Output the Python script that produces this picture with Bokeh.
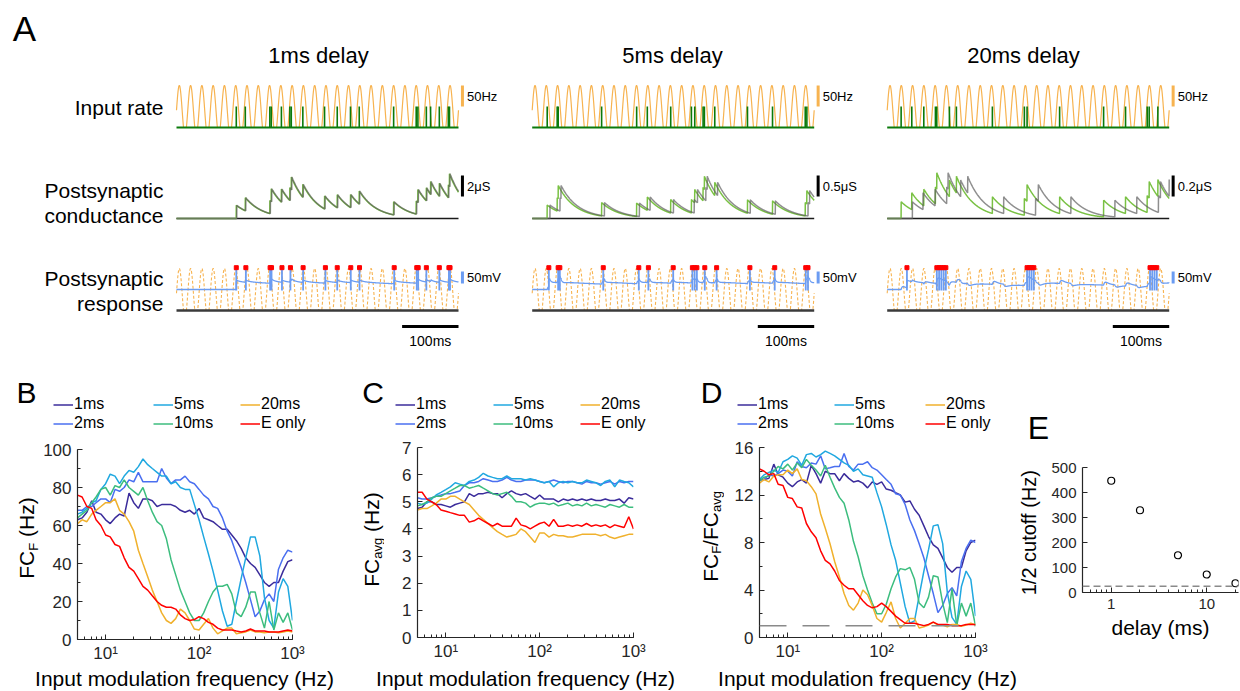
import numpy as np
from bokeh.plotting import figure
from bokeh.models import Range1d, Label, Legend, LegendItem, Span, SingleIntervalTicker, FixedTicker
from bokeh.layouts import column, row
from bokeh.embed import file_html
from bokeh.resources import INLINE

FONT = "Liberation Sans"
AXC = "#262626"

# ---------------- Panel A data ----------------
col_titles = ["1ms delay", "5ms delay", "20ms delay"]
delays_ms = [1.0, 5.0, 20.0]
duration_ms = 500.0
mod_freq_hz = 50.0
peak_rate_hz = 100.0
rate_peak_phase_ms = 5.0
spike_mark_hz = 50.0
input_spikes_ms = [
    [106, 122, 165.5, 168, 186, 201, 203.5, 224, 262.5, 285, 308.5, 324, 385, 425, 428, 443, 450.5, 466, 482, 484],
    [26.6, 44.3, 46.1, 123.1, 185.2, 204.1, 245.6, 282.3, 288.2, 303, 305.3, 323.7, 381.7, 426.1, 484.1, 487],
    [24.7, 43.6, 64.9, 85.5, 87.9, 110.3, 122.7, 186.5, 243.2, 248, 305.7, 383.7, 422.6, 461, 464.5, 479.9],
]
output_spikes_ms = [
    [106, 123, 166, 168.5, 187, 202, 224.5, 264, 285, 309, 324.5, 386, 426, 428.5, 443, 466, 483, 485],
    [29.5, 46, 49, 126, 189, 206, 250, 284, 288, 292, 306, 327, 386, 430, 485, 489],
    [35, 88, 92, 96, 100, 104, 248, 252, 256, 260, 466, 470, 474, 478],
]
cond_bar_value = [2.0, 0.5, 0.2]
cond_bar_text = ["2μS", "0.5μS", "0.2μS"]
cond_jump = [1.25, 0.32, 0.16]
cond_tau_ms = 30.0
v_rest, v_reset, v_relax, tau_relax = -70.0, -38.0, -62.0, 150.0
psp_e_amp, psp_i_amp = 12.0, 8.0
spike_top_mv, spike_bottom_mv, marker_mv = 16.0, -74.0, 21.0

# ---------------- Panels B-D data ----------------
freq = [5.0, 5.6, 6.3, 7.1, 7.9, 8.9, 10, 11.2, 12.6, 14.1, 15.8, 17.8, 20, 22.4, 25.1, 28.2,
        31.6, 35.5, 39.8, 44.7, 50.1, 56.2, 63.1, 70.8, 79.4, 89.1, 100, 112, 126, 141, 158, 178,
        200, 224, 251, 282, 316, 355, 398, 447, 501, 562, 631, 708, 794, 891, 1000]
series = ["1ms", "2ms", "5ms", "10ms", "20ms", "E only"]
colors = {"1ms": "#3b2c9b", "2ms": "#4a6ff0", "5ms": "#20a8e0",
          "10ms": "#3cbd7e", "20ms": "#f0b12d", "E only": "#ff0000"}
fcf = {
    "1ms": [63, 64, 67, 73, 67, 66, 63, 61, 64, 66, 65, 77, 72, 69, 74, 74, 73, 70, 71, 71, 71, 70, 68, 67,
            68, 66, 69, 64, 63, 62, 60, 58, 58, 55, 52, 48, 43, 40, 38, 34, 30, 28, 30, 30, 36, 41, 42],
    "2ms": [68, 68, 70, 70, 72, 74, 74, 72, 79, 78, 80, 84, 83, 88, 83, 83, 83, 83, 90, 85, 82, 84, 84, 86,
            83, 82, 79, 76, 74, 70, 69, 64, 57, 52, 45, 38, 30, 21, 12, 15, 21, 24, 20, 37, 43, 47, 46],
    "5ms": [66, 67, 69, 72, 73, 79, 82, 87, 86, 82, 86, 89, 88, 91, 95, 92, 90, 88, 86, 86, 82, 83, 80, 79,
            79, 71, 63, 54, 45, 36, 26, 15, 7, 8, 20, 32, 43, 54, 54, 44, 22, 10, 6, 25, 32, 28, 10],
    "10ms": [64, 66, 68, 72, 75, 79, 80, 76, 81, 80, 84, 80, 78, 76, 80, 73, 67, 62, 60, 53, 42, 34, 26, 20,
             14, 10, 10, 14, 20, 25, 28, 28, 29, 24, 14, 12, 17, 25, 25, 14, 6, 20, 5, 14, 9, 14, 5],
    "20ms": [61, 63, 62, 66, 68, 70, 72, 72, 74, 68, 66, 62, 57, 47, 40, 33, 26, 20, 14, 10, 8.5, 11, 16, 14,
             10, 5.5, 5, 8, 11, 6, 3, 4.5, 6, 6, 3, 3.5, 4, 5, 4, 4, 3.5, 4, 4, 3.5, 4, 4.5, 4],
    "E only": [76, 75, 70, 69, 63, 60, 55, 54, 50, 49, 43, 38, 36, 32, 28, 26, 23, 20, 18, 17, 17, 16, 13, 11,
               10, 10.5, 12, 11, 9, 8, 6, 5, 5, 5, 4.5, 4, 4.5, 5.5, 4.5, 4.5, 4.5, 4, 4, 4, 4.5, 5, 4.5],
}
fcavg = {
    "1ms": [4.75, 4.8, 5.0, 5.0, 4.9, 4.9, 4.85, 4.8, 4.9, 4.95, 5.0, 5.3, 5.2, 5.3, 5.3, 5.35, 5.3, 5.3, 5.15,
            5.3, 5.4, 5.3, 5.25, 5.3, 5.2, 5.1, 5.25, 5.1, 5.1, 5.1, 5.0, 5.1, 5.05, 5.1, 5.05, 5.1, 5.05, 5.1,
            5.05, 5.05, 5.1, 5.05, 5.05, 5.1, 4.95, 5.15, 5.1],
    "2ms": [5.15, 5.1, 5.1, 5.15, 5.2, 5.25, 5.3, 5.3, 5.35, 5.4, 5.6, 5.7, 5.7, 5.75, 5.85, 5.8, 5.75, 5.75,
            5.8, 5.9, 5.8, 5.75, 5.75, 5.8, 5.8, 5.8, 5.75, 5.7, 5.75, 5.8, 5.75, 5.7, 5.75, 5.75, 5.7, 5.65,
            5.75, 5.7, 5.7, 5.65, 5.7, 5.75, 5.65, 5.75, 5.7, 5.75, 5.75],
    "5ms": [4.95, 4.9, 4.95, 5.1, 5.25, 5.35, 5.45, 5.55, 5.7, 5.65, 5.6, 5.75, 5.8, 5.9, 6.05, 5.95, 5.9, 5.85,
            5.85, 5.95, 5.85, 5.85, 5.85, 5.8, 5.85, 5.8, 5.75, 5.7, 5.75, 5.55, 5.7, 5.75, 5.7, 5.75, 5.7, 5.7,
            5.8, 5.75, 5.7, 5.6, 5.75, 5.8, 5.55, 5.8, 5.75, 5.7, 5.55],
    "10ms": [4.85, 4.9, 5.0, 5.15, 5.2, 5.2, 5.3, 5.4, 5.5, 5.6, 5.6, 5.5, 5.55, 5.6, 5.5, 5.4, 5.3, 5.25, 5.3,
             5.35, 5.2, 5.0, 5.0, 4.95, 4.8, 4.9, 4.95, 4.95, 4.9, 4.95, 4.85, 4.9, 4.95, 4.85, 4.9, 4.85, 4.95,
             4.85, 4.9, 4.85, 4.8, 4.9, 4.85, 4.8, 4.9, 4.8, 4.8],
    "20ms": [4.7, 4.75, 4.75, 4.85, 4.95, 5.1, 5.1, 5.2, 5.2, 5.1, 5.0, 4.9, 4.7, 4.5, 4.35, 4.2, 4.05, 3.9, 3.8,
             3.7, 3.75, 3.8, 4.0, 3.9, 3.7, 3.5, 3.85, 3.85, 3.7, 3.8, 3.75, 3.75, 3.7, 3.7, 3.75, 3.8, 3.8, 3.8,
             3.8, 3.75, 3.8, 3.7, 3.65, 3.7, 3.75, 3.8, 3.8],
    "E only": [5.35, 5.35, 5.1, 5.0, 4.9, 4.7, 4.65, 4.6, 4.55, 4.5, 4.5, 4.25, 4.3, 4.4, 4.3, 4.2, 4.1, 4.2, 4.1,
               4.1, 4.1, 4.4, 4.15, 4.1, 4.0, 4.1, 4.2, 4.25, 4.1, 4.35, 4.1, 4.1, 4.15, 4.1, 4.15, 4.1, 4.2, 4.1,
               4.15, 4.1, 4.15, 4.05, 4.15, 4.1, 4.05, 4.45, 4.0],
}
ratio = {
    "1ms": [13.3, 13.3, 13.4, 14.6, 13.7, 13.5, 13.0, 12.7, 13.1, 13.3, 13.0, 14.5, 13.8, 13.0, 14.0, 13.8, 13.8,
            13.2, 13.8, 13.4, 13.1, 13.2, 13.0, 12.6, 13.1, 12.9, 13.1, 12.5, 12.4, 12.2, 12.0, 11.4, 11.5, 10.8,
            10.3, 9.4, 8.5, 7.8, 7.5, 6.7, 5.9, 5.5, 5.9, 5.9, 7.3, 8.0, 8.2],
    "2ms": [13.2, 13.3, 13.7, 13.6, 13.8, 14.1, 14.0, 13.6, 14.8, 14.4, 14.3, 14.7, 14.6, 15.3, 14.2, 14.3, 14.4,
            14.4, 15.5, 14.4, 14.1, 14.6, 14.6, 14.8, 14.3, 14.1, 13.7, 13.3, 12.9, 12.1, 12.0, 11.2, 9.9, 9.0,
            7.9, 6.7, 5.2, 3.7, 2.1, 2.7, 3.7, 4.2, 3.5, 6.4, 7.5, 8.2, 8.0],
    "5ms": [13.3, 13.7, 13.9, 14.1, 13.9, 14.8, 15.0, 15.3, 15.1, 14.5, 15.4, 15.5, 15.2, 15.4, 15.7, 15.5, 15.3,
            15.0, 14.7, 14.5, 14.0, 14.2, 13.7, 13.6, 13.5, 12.2, 11.0, 9.5, 7.8, 6.5, 4.6, 2.6, 1.2, 1.4, 3.5,
            5.6, 7.4, 9.4, 9.5, 7.9, 3.8, 1.7, 1.1, 4.3, 5.6, 4.9, 1.8],
    "10ms": [13.2, 13.5, 13.6, 14.0, 14.4, 14.2, 14.6, 14.1, 14.7, 14.3, 15.0, 14.5, 14.1, 13.6, 14.5, 13.5, 12.6,
             11.8, 11.3, 9.9, 8.1, 6.8, 5.2, 4.0, 2.9, 2.0, 2.0, 2.8, 4.1, 5.1, 5.8, 5.7, 5.9, 4.9, 2.9, 2.5, 3.4,
             5.2, 5.1, 2.9, 1.25, 4.1, 1.0, 2.9, 1.8, 2.9, 1.0],
    "20ms": [13.0, 13.3, 13.1, 13.6, 13.7, 13.7, 14.1, 13.8, 14.2, 13.3, 13.2, 12.7, 12.1, 10.4, 9.2, 7.9, 6.4,
             5.1, 3.7, 2.7, 2.3, 2.9, 4.0, 3.6, 2.7, 1.6, 1.3, 2.1, 3.0, 1.6, 0.8, 1.2, 1.6, 1.6, 0.8, 0.9, 1.05,
             1.3, 1.05, 1.05, 0.9, 1.1, 1.1, 0.95, 1.05, 1.2, 1.05],
    "E only": [14.2, 14.0, 13.7, 13.8, 12.9, 12.8, 11.8, 11.7, 11.0, 10.9, 9.6, 8.9, 8.4, 7.3, 6.5, 6.2, 5.6, 4.8,
               4.4, 4.1, 4.1, 3.6, 3.1, 2.7, 2.5, 2.6, 2.9, 2.6, 2.2, 1.8, 1.5, 1.2, 1.2, 1.2, 1.1, 1.0, 1.1, 1.3,
               1.1, 1.1, 1.1, 1.0, 1.0, 1.0, 1.1, 1.1, 1.1],
}
ratio_reference = 1.0

# ---------------- Panel E data ----------------
delay_e = [1, 2, 5, 10, 20]
cutoff_e = [447, 329, 149, 72, 37]
cutoff_e_only = 25
delay_ticks = [1, 10]
delay_minor_ticks = [0.5, 0.6, 0.7, 0.8, 0.9, 2, 3, 4, 5, 6, 7, 8, 9, 20]

# ---------------- helpers ----------------
CW = {'F': .611, 'C': .722, ' ': .278, '(': .333, 'H': .722, 'z': .5, ')': .333, '/': .278, 'a': .556,
      'v': .5, 'g': .556, '1': .556, '2': .556, 'c': .5, 'u': .556, 't': .278, 'o': .556, 'f': .278}


def text_w(s, size):
    return sum(CW.get(ch, 0.55) for ch in s) * size


def add_label(p, x, y, text, size, align="center", baseline="middle", units="screen",
              color="black", angle=0.0):
    p.add_layout(Label(x=x, y=y, x_units=units, y_units=units, text=text, text_font=FONT,
                       text_font_size=f"{size}px", text_align=align, text_baseline=baseline,
                       text_color=color, angle=angle))


def rot_label(p, parts, x_mid, y_center):
    # parts: (text, size, shift to the right for subscripts, gap before)
    total = sum(text_w(tx, sz) + gap for tx, sz, dx, gap in parts)
    y = y_center - total / 2
    for tx, sz, dx, gap in parts:
        y += gap
        add_label(p, x_mid + dx, y, tx, sz, align="left", baseline="middle", angle=np.pi / 2)
        y += text_w(tx, sz)


def blank_fig(w, h, xr=(0, 1), yr=(0, 1)):
    p = figure(width=w, height=h, x_range=Range1d(*xr), y_range=Range1d(*yr),
               x_axis_location=None, y_axis_location=None, min_border=0,
               output_backend="svg", toolbar_location=None, outline_line_color=None,
               background_fill_color="white", border_fill_color="white", frame_align=False)
    p.xgrid.visible = False
    p.ygrid.visible = False
    return p


# ---------------- Panel A ----------------
PX_PER_MS = 282.0 / 500.0
col_w = [355, 355, 360]
col_off = [6.0, 6.7, 6.7]
R1, R2, R3 = 65, 100, 125
LABW = 170

ORANGE = "#f7b350"
GREEN_SPK = "#0b7a0b"
GREEN_E = "#79c143"
GRAY_I = "#5e5e5e"
BLUE = "#6b9cf2"

t = np.round(np.arange(0.0, duration_ms + 1e-9, 0.2), 3)
arch = -0.7
phase = 2 * np.pi * mod_freq_hz * (t - rate_peak_phase_ms) / 1000.0
rate = peak_rate_hz * np.clip((np.cos(phase) - arch) / (1 - arch), 0, None)


def conductance(spikes, shift, jump):
    g = np.zeros_like(t)
    for s in spikes:
        m = t >= s + shift
        g[m] += jump * np.exp(-(t[m] - s - shift) / cond_tau_ms)
    return g


def kern(s):
    out = np.zeros_like(s)
    m = s > 0
    out[m] = (np.exp(-s[m] / 8.0) - np.exp(-s[m] / 2.0)) / 0.4725
    return out


def membrane(in_spk, out_spk, d):
    base = np.full(t.shape, v_rest)
    for s in sorted(out_spk):
        m = t >= s
        base[m] = v_relax + (v_reset - v_relax) * np.exp(-(t[m] - s) / tau_relax)
    psp = np.zeros(t.shape)
    for s in in_spk:
        psp += psp_e_amp * kern(t - s) - psp_i_amp * kern(t - s - d)
    return base + psp


title_fig = blank_fig(1240, 75)
add_label(title_fig, 24, 47, "A", 35)
for cx, txt in zip([318, 672, 1023], col_titles):
    add_label(title_fig, cx, 20, txt, 22)

lab1 = blank_fig(LABW, R1)
add_label(lab1, 163, 33, "Input rate", 21, align="right")
lab2 = blank_fig(LABW, R2)
add_label(lab2, 163, 50, "Postsynaptic", 21, align="right")
add_label(lab2, 163, 25, "conductance", 21, align="right")
lab3 = blank_fig(LABW, R3)
add_label(lab3, 163, 87, "Postsynaptic", 21, align="right")
add_label(lab3, 163, 62, "response", 21, align="right")

row1, row2, row3 = [lab1], [lab2], [lab3]
bar_t = duration_ms + 7
for c in range(3):
    xr = (-col_off[c] / PX_PER_MS, (col_w[c] - col_off[c]) / PX_PER_MS)
    spk = input_spikes_ms[c]
    ospk = output_spikes_ms[c]
    n = len(spk)
    p1 = blank_fig(col_w[c], R1, xr, (-13 / 0.42, 52 / 0.42))
    p1.line(t, rate, color=ORANGE, line_width=1.2)
    p1.segment(x0=spk, y0=[0] * n, x1=spk, y1=[spike_mark_hz] * n, color=GREEN_SPK, line_width=1.6)
    p1.segment(x0=[0], y0=[0], x1=[duration_ms], y1=[0], color=GREEN_SPK, line_width=2)
    p1.segment(x0=[bar_t], y0=[peak_rate_hz - 50], x1=[bar_t], y1=[peak_rate_hz], color=ORANGE, line_width=3)
    add_label(p1, bar_t + 8, peak_rate_hz - 25, "50Hz", 13, align="left", units="data")
    row1.append(p1)
    s = 21.0 / cond_bar_value[c]
    p2 = blank_fig(col_w[c], R2, xr, (-22 / s, 78 / s))
    gE = conductance(spk, 0.0, cond_jump[c])
    gI = conductance(spk, delays_ms[c], cond_jump[c])
    p2.segment(x0=[0], y0=[0], x1=[duration_ms], y1=[0], color="#1a1a1a", line_width=1.5)
    p2.line(t, gE, color=GREEN_E, line_width=1.5)
    p2.line(t, gI, color=GRAY_I, line_width=1.5, alpha=0.7)
    y0b = 22 / s
    p2.segment(x0=[bar_t], y0=[y0b], x1=[bar_t], y1=[y0b + cond_bar_value[c]], color="black", line_width=3)
    add_label(p2, bar_t + 8, y0b + cond_bar_value[c] / 2, cond_bar_text[c], 13, align="left", units="data")
    row2.append(p2)
    p3 = blank_fig(col_w[c], R3, xr, (-70 - 76 / 0.24, -70 + 49 / 0.24))
    p3.extra_y_ranges = {"rate": Range1d(-55 / 0.42, 70 / 0.42)}
    p3.line(t, rate, color=ORANGE, line_width=1.1, line_dash="3 2", y_range_name="rate")
    p3.segment(x0=[0], y0=[0], x1=[duration_ms], y1=[0], color="#3a3a3a", line_width=2.5, y_range_name="rate")
    vm = membrane(spk, ospk, delays_ms[c])
    p3.line(t, vm, color=BLUE, line_width=1.3)
    m = len(ospk)
    p3.segment(x0=ospk, y0=[spike_bottom_mv] * m, x1=ospk, y1=[spike_top_mv] * m, color=BLUE, line_width=1.8)
    p3.scatter(ospk, [marker_mv] * m, marker="square", size=4, fill_color="red", line_color="red")
    p3.segment(x0=[bar_t], y0=[-45], x1=[bar_t], y1=[5], color=BLUE, line_width=3)
    add_label(p3, bar_t + 8, -20, "50mV", 13, align="left", units="data")
    ybar = -70 - 37 / 0.24
    p3.segment(x0=[duration_ms - 100], y0=[ybar], x1=[duration_ms], y1=[ybar], color="black", line_width=3)
    add_label(p3, duration_ms - 50, -70 - 51 / 0.24, "100ms", 14, units="data")
    row3.append(p3)


# ---------------- Panels B-E ----------------
def panel(width, height, xr, yr, bl, br, bt, bb, yint, yminor, xover, tick_size):
    p = figure(width=width, height=height, x_axis_type="log", x_range=Range1d(*xr), y_range=Range1d(*yr),
               min_border_left=bl, min_border_right=br, min_border_top=bt, min_border_bottom=bb,
               output_backend="svg", toolbar_location=None, outline_line_color=None,
               background_fill_color="white", border_fill_color="white", frame_align=False)
    p.xgrid.visible = False
    p.ygrid.visible = False
    p.yaxis.ticker = SingleIntervalTicker(interval=yint, num_minor_ticks=yminor)
    p.xaxis.major_label_overrides = xover
    for ax in [p.xaxis[0], p.yaxis[0]]:
        ax.axis_line_color = AXC
        ax.axis_line_width = 1.2
        ax.major_tick_in = 5
        ax.major_tick_out = 0
        ax.minor_tick_in = 3
        ax.minor_tick_out = 0
        ax.major_tick_line_color = AXC
        ax.minor_tick_line_color = AXC
        ax.major_label_text_font = FONT
        ax.major_label_text_font_size = tick_size
        ax.major_label_text_color = AXC
    p.xaxis.major_label_standoff = 4
    p.yaxis.major_label_standoff = 6
    return p


XOVER = {10: "10¹", 100: "10²", 1000: "10³"}
BLOCK_H = 300
SP21 = 0.278 * 21


def curve_block(width, head_h, ylab_w, bl, br, data, yr, yint, yminor, letter, letter_xy, leg_x, leg_y,
                ylab_parts, ylab_x, ylab_y, ref=None):
    mid_h = BLOCK_H - head_h
    p = panel(width - ylab_w, mid_h, (5, 1000), yr, bl, br, 10, mid_h - 200, yint, yminor, XOVER, "17px")
    if ref is not None:
        p.add_layout(Span(location=ref, dimension="width", line_color="#8a8a8a", line_width=1.5,
                          line_dash="27 16"))
    for name in series:
        p.line(freq, data[name], color=colors[name], line_width=1.5)
    head = blank_fig(width, head_h)
    keys = {}
    for name in series:
        keys[name] = head.line(freq, data[name], color=colors[name], line_width=1.5)
    groups = [["1ms", "2ms"], ["5ms", "10ms"], ["20ms", "E only"]]
    for g, lx in zip(groups, leg_x):
        leg = Legend(items=[LegendItem(label=nm, renderers=[keys[nm]]) for nm in g],
                     location=(lx, leg_y), orientation="vertical", glyph_width=20, glyph_height=17,
                     label_height=17, spacing=1, padding=0, margin=0, label_standoff=1,
                     border_line_color=None, background_fill_alpha=0, label_text_font=FONT,
                     label_text_font_size="16px", label_text_color="black")
        head.add_layout(leg)
    add_label(head, letter_xy[0], letter_xy[1], letter, 30)
    ylab = blank_fig(ylab_w, mid_h)
    rot_label(ylab, ylab_parts, ylab_x, ylab_y)
    return column(head, row(ylab, p))


blockB = curve_block(340, 74, 40, 36, 48, fcf, (0, 100), 20, 2, "B", (26, 47), [53, 153, 240], 6.7,
                     [("FC", 21, 0, 0), ("F", 13, 6.8, 0), ("(Hz)", 21, 0, SP21)], 26, 127.5)
blockC = curve_block(340, 72, 44, 33, 47, fcavg, (0, 7), 1, 0, "C", (32.5, 45), [55, 153, 240], 4.7,
                     [("FC", 21, 0, 0), ("avg", 13, 6.8, 0), ("(Hz)", 21, 0, SP21)], 30.5, 126)
blockD = curve_block(330, 72, 44, 35, 35, ratio, (0, 16), 4, 2, "D", (31, 45), [57, 154, 245], 4.7,
                     [("FC", 21, 0, 0), ("F", 13, 6.8, 0), ("/FC", 21, 0, 0), ("avg", 13, 6.8, 0)], 29.5, 129,
                     ref=ratio_reference)

# Panel E block
headE = blank_fig(230, 92)
add_label(headE, 28, 30, "E", 32)
pE = panel(198, 159, (0.5, 21.5), (0, 500), 40, 2, 10, 24, 100, 0, {1: "1", 10: "10"}, "15px")
pE.xaxis.ticker = FixedTicker(ticks=delay_ticks, minor_ticks=delay_minor_ticks)
pE.xaxis.major_label_standoff = 6
pE.add_layout(Span(location=cutoff_e_only, dimension="width", line_color="#8a8a8a", line_width=1.3,
                   line_dash="7 4"))
pE.scatter(delay_e, cutoff_e, marker="circle", size=7, fill_color="white", line_color="black",
           line_width=1.2)
ylabE = blank_fig(32, 159)
rot_label(ylabE, [("1/2 cutoff (Hz)", 20, 0, 0)], 18.7, 84)
xlabE = blank_fig(230, 49)
add_label(xlabE, 150, 38, "delay (ms)", 21)
blockE = column(headE, row(ylabE, pE), xlabE)

strip = blank_fig(1240, 26)
for cx in [184, 525, 867]:
    add_label(strip, cx, 13, "Input modulation frequency (Hz)", 21)

layout = column(title_fig, row(*row1), row(*row2), row(*row3),
                row(blockB, blockC, blockD, blockE), strip)
open("out.html", "w").write(file_html(layout, INLINE))
